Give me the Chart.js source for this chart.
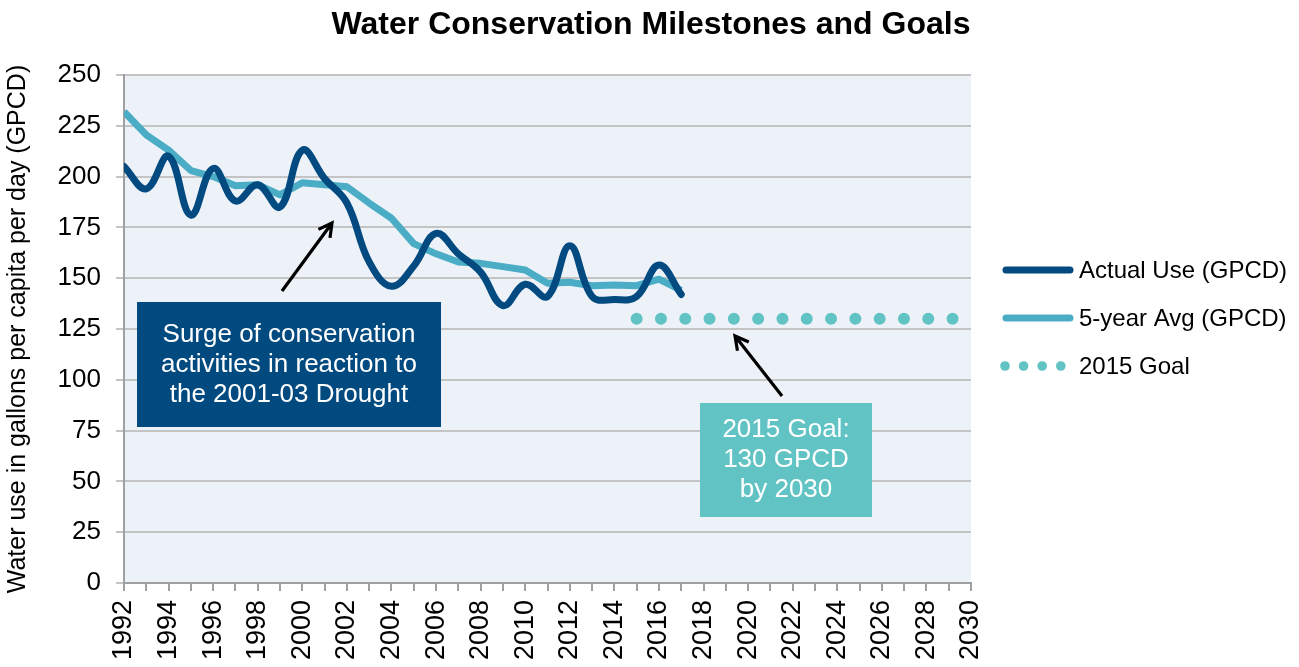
<!DOCTYPE html>
<html>
<head>
<meta charset="utf-8">
<title>Water Conservation Milestones and Goals</title>
<script src="https://cdn.jsdelivr.net/npm/chart.js@4/dist/chart.umd.min.js"></script>
<style>
  html, body { margin: 0; padding: 0; background: #ffffff; }
  #wrap { width: 1299px; height: 667px; }
</style>
</head>
<body>
<div id="wrap"><canvas id="waterChart" width="1299" height="667"></canvas></div>
<script>
// Yearly water use, gallons per capita per day
var years = [1992, 1993, 1994, 1995, 1996, 1997, 1998, 1999, 2000, 2001, 2002, 2003, 2004,
             2005, 2006, 2007, 2008, 2009, 2010, 2011, 2012, 2013, 2014, 2015, 2016, 2017];
var actualUse = [205, 194, 210, 181, 204, 188, 196, 185, 213, 199, 187, 158, 146,
                 156, 172, 162, 153, 136.5, 147, 141, 166, 141, 139.5, 141, 156.5, 142];
var fiveYearAvg = [232, 220.5, 213, 203, 200, 195.5, 196, 191, 197, 196, 195, 187, 179.5,
                   167, 162, 158, 157.3, 155.7, 154, 147.5, 148, 146.3, 146.6, 146.3, 149.5, 144];
var goalYears = [2015, 2030];
var goalValues = [130, 130];

var seriesNames = ['Actual Use (GPCD)', '5-year Avg (GPCD)', '2015 Goal'];
var chartTitle = 'Water Conservation Milestones and Goals';
var yAxisTitle = 'Water use in gallons per capita per day (GPCD)';
var droughtNote = ['Surge of conservation', 'activities in reaction to', 'the 2001-03 Drought'];
var goalNote = ['2015 Goal:', '130 GPCD', 'by 2030'];

var DARK = '#024a80';
var AQUA = '#4bacc6';
var TEAL = '#62c3c4';
var GRID = '#c4c4c4';
var AXIS = '#a0a0a0';
var FONT = '"Liberation Sans", Arial, sans-serif';

function toPoints(xs, ys) {
    return xs.map(function(x, i) { return { x: x, y: ys[i] }; });
}

// light plot background
var plotBackground = {
    id: 'plotBackground',
    beforeDraw: function(chart) {
        var a = chart.chartArea, ctx = chart.ctx;
        ctx.save();
        ctx.fillStyle = '#edf2f9';
        ctx.fillRect(a.left, a.top, a.right - a.left, a.bottom - a.top);
        ctx.restore();
    }
};

function drawArrow(ctx, x1, y1, x2, y2) {
    var ang = Math.atan2(y2 - y1, x2 - x1);
    var head = 15;
    ctx.beginPath();
    ctx.moveTo(x1, y1);
    ctx.lineTo(x2, y2);
    ctx.moveTo(x2 - head * Math.cos(ang - 0.5), y2 - head * Math.sin(ang - 0.5));
    ctx.lineTo(x2, y2);
    ctx.lineTo(x2 - head * Math.cos(ang + 0.5), y2 - head * Math.sin(ang + 0.5));
    ctx.stroke();
}

function drawNote(ctx, lines, box, fill) {
    ctx.fillStyle = fill;
    ctx.fillRect(box.x, box.y, box.w, box.h);
    ctx.fillStyle = '#ffffff';
    ctx.font = '26px ' + FONT;
    ctx.textAlign = 'center';
    ctx.textBaseline = 'middle';
    var cx = box.x + box.w / 2;
    var startY = box.y + box.h / 2 - (lines.length - 1) * 15;
    lines.forEach(function(t, i) { ctx.fillText(t, cx, startY + i * 30); });
}

// title, legend, arrows and text boxes
var decorations = {
    id: 'decorations',
    afterDraw: function(chart) {
        var ctx = chart.ctx;
        ctx.save();

        ctx.fillStyle = '#000000';
        ctx.font = 'bold 32px ' + FONT;
        ctx.textAlign = 'center';
        ctx.textBaseline = 'middle';
        ctx.fillText(chartTitle, 651, 25);

        // legend
        var lx = 1003, rows = [270, 318, 366];
        ctx.lineCap = 'round';
        ctx.lineWidth = 7;
        ctx.strokeStyle = DARK;
        ctx.beginPath(); ctx.moveTo(lx + 3, rows[0]); ctx.lineTo(lx + 67, rows[0]); ctx.stroke();
        ctx.strokeStyle = AQUA;
        ctx.beginPath(); ctx.moveTo(lx + 3, rows[1]); ctx.lineTo(lx + 67, rows[1]); ctx.stroke();
        ctx.fillStyle = TEAL;
        for (var i = 0; i < 4; i++) {
            ctx.beginPath();
            ctx.arc(lx + 2 + i * 18.6, rows[2], 4.8, 0, Math.PI * 2);
            ctx.fill();
        }
        ctx.fillStyle = '#000000';
        ctx.font = '24px ' + FONT;
        ctx.textAlign = 'left';
        ctx.textBaseline = 'middle';
        seriesNames.forEach(function(n, i) { ctx.fillText(n, 1079, rows[i] + 1); });

        drawNote(ctx, droughtNote, { x: 137, y: 302, w: 304, h: 125 }, '#004a80');
        drawNote(ctx, goalNote, { x: 700, y: 403, w: 172, h: 114 }, TEAL);

        ctx.strokeStyle = '#000000';
        ctx.lineWidth = 3.2;
        ctx.lineCap = 'butt';
        drawArrow(ctx, 282, 291, 332, 223);
        drawArrow(ctx, 782, 396, 735, 336);

        ctx.restore();
    }
};

new Chart(document.getElementById('waterChart'), {
    type: 'line',
    data: {
        datasets: [{
            label: seriesNames[0],
            data: toPoints(years, actualUse),
            borderColor: DARK,
            borderWidth: 7,
            tension: 0.4,
            borderCapStyle: 'round',
            borderJoinStyle: 'round',
            pointRadius: 0,
            order: 1
        }, {
            label: seriesNames[1],
            data: toPoints(years, fiveYearAvg),
            borderColor: AQUA,
            borderWidth: 7,
            tension: 0,
            borderJoinStyle: 'round',
            pointRadius: 0,
            order: 2
        }, {
            label: seriesNames[2],
            data: toPoints(goalYears, goalValues),
            borderColor: TEAL,
            borderWidth: 12,
            borderDash: [0, 24.3],
            borderCapStyle: 'round',
            tension: 0,
            pointRadius: 0,
            order: 3
        }]
    },
    options: {
        responsive: false,
        animation: false,
        layout: {
            padding: { left: 0, top: 75, right: 328, bottom: 0 }
        },
        plugins: {
            legend: { display: false },
            title: { display: false },
            tooltip: { enabled: false }
        },
        scales: {
            x: {
                type: 'linear',
                min: 1992,
                max: 2030,
                afterFit: function(scale) { scale.height = 84; },
                grid: {
                    drawOnChartArea: false,
                    drawTicks: true,
                    tickLength: 8,
                    color: AXIS,
                    lineWidth: 2
                },
                border: { color: AXIS, width: 2 },
                ticks: {
                    stepSize: 1,
                    autoSkip: false,
                    minRotation: 90,
                    maxRotation: 90,
                    padding: 9,
                    color: '#000000',
                    font: { family: FONT, size: 27 },
                    callback: function(v) { return v % 2 === 0 ? String(v) : ''; }
                }
            },
            y: {
                min: 0,
                max: 250,
                afterFit: function(scale) { scale.width = 124; },
                grid: {
                    color: GRID,
                    lineWidth: 2,
                    drawTicks: true,
                    tickLength: 8
                },
                border: { color: AXIS, width: 2 },
                ticks: {
                    stepSize: 25,
                    padding: 15,
                    color: '#000000',
                    font: { family: FONT, size: 26 }
                },
                title: {
                    display: true,
                    text: yAxisTitle,
                    color: '#000000',
                    font: { family: FONT, size: 25 },
                    padding: { top: 3, bottom: 0 }
                }
            }
        }
    },
    plugins: [plotBackground, decorations]
});
</script>
</body>
</html>
